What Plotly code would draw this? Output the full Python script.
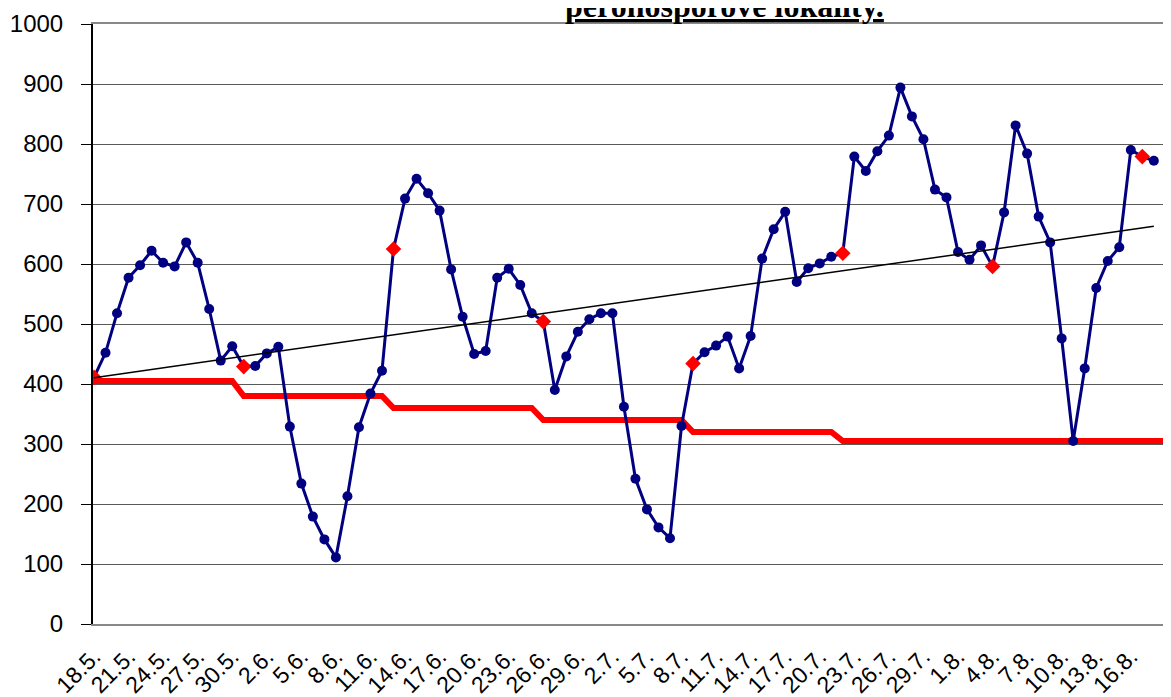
import plotly.graph_objects as go
import numpy as np

# --- data -------------------------------------------------------------
dates = [
    "18.5.", "19.5.", "20.5.", "21.5.", "22.5.", "23.5.", "24.5.", "25.5.", "26.5.", "27.5.",
    "28.5.", "29.5.", "30.5.", "31.5.", "1.6.", "2.6.", "3.6.", "4.6.", "5.6.", "6.6.",
    "7.6.", "8.6.", "9.6.", "10.6.", "11.6.", "12.6.", "13.6.", "14.6.", "15.6.", "16.6.",
    "17.6.", "18.6.", "19.6.", "20.6.", "21.6.", "22.6.", "23.6.", "24.6.", "25.6.", "26.6.",
    "27.6.", "28.6.", "29.6.", "30.6.", "1.7.", "2.7.", "3.7.", "4.7.", "5.7.", "6.7.",
    "7.7.", "8.7.", "9.7.", "10.7.", "11.7.", "12.7.", "13.7.", "14.7.", "15.7.", "16.7.",
    "17.7.", "18.7.", "19.7.", "20.7.", "21.7.", "22.7.", "23.7.", "24.7.", "25.7.", "26.7.",
    "27.7.", "28.7.", "29.7.", "30.7.", "31.7.", "1.8.", "2.8.", "3.8.", "4.8.", "5.8.",
    "6.8.", "7.8.", "8.8.", "9.8.", "10.8.", "11.8.", "12.8.", "13.8.", "14.8.", "15.8.",
    "16.8.", "17.8.", "18.8.", "19.8.", "20.8.",
]

values = [
    411, 452, 518, 577, 598, 622, 602, 596, 636, 602,
    525, 439, 463, 429, 430, 451, 462, 329, 234, 179,
    141, 111, 213, 328, 384, 422, 625, 709, 742, 718,
    689, 591, 512, 450, 455, 577, 592, 565, 518, 504,
    390, 446, 487, 508, 518, 518, 362, 242, 191, 161,
    143, 330, 434, 453, 464, 479, 426, 480, 609, 658,
    687, 570, 593, 601, 612, 618, 779, 755, 788, 814,
    894, 846, 808, 724, 711, 620, 607, 631, 596, 686,
    831, 784, 679, 636, 476, 305, 426, 560, 605, 628,
    790, 779, 772,
]

threshold = (
    [405] * 13 + [380] * 13 + [360] * 13 + [340] * 13 + [320] * 13 + [305] * 30
)

flag_idx = [0, 13, 26, 39, 52, 65, 78, 91]

tick_labels = dates[0:91:3]

title_text = "peronosporové lokality."

# --- derived ----------------------------------------------------------
n = len(values)
xs = dates[:n]
symbols = ["diamond" if i in flag_idx else "circle" for i in range(n)]
mcolors = ["#FF0000" if i in flag_idx else "#000080" for i in range(n)]
msizes = [12 if i in flag_idx else 10 for i in range(n)]

coef = np.polyfit(np.arange(n), np.array(values, dtype=float), 1)
trend = list(np.polyval(coef, np.arange(n)))

fig = go.Figure()

fig.add_trace(go.Scatter(
    x=dates[:len(threshold)], y=threshold, mode="lines",
    line=dict(color="#FF0000", width=6), hoverinfo="skip", showlegend=False,
))

fig.add_trace(go.Scatter(
    x=xs, y=values, mode="lines+markers",
    line=dict(color="#000080", width=3),
    marker=dict(symbol=symbols, color=mcolors, size=msizes, opacity=1,
                line=dict(width=0)),
    showlegend=False,
))

fig.add_trace(go.Scatter(
    x=xs, y=trend, mode="lines",
    line=dict(color="#000000", width=1.5), hoverinfo="skip", showlegend=False,
))

# the page body adds an 8px offset; the figure is sized to fill the window
fig.update_layout(
    width=1163, height=689,
    margin=dict(l=85, r=0, t=16, b=73, autoexpand=False),
    paper_bgcolor="white", plot_bgcolor="white",
    font=dict(family="Liberation Sans, Arial, sans-serif", color="black"),
    xaxis=dict(
        type="category", automargin=False,
        categoryorder="array", categoryarray=dates,
        range=[-0.087, 93.49],
        tickmode="array", tickvals=tick_labels, ticktext=tick_labels,
        tickangle=-45, tickfont=dict(size=23),
        ticks="", ticklabelstandoff=8,
        showgrid=False, zeroline=False,
        showline=True, linecolor="#888888", linewidth=2, mirror=True,
    ),
    yaxis=dict(
        automargin=False,
        range=[0, 1000], dtick=100, tick0=0,
        tickfont=dict(size=24),
        ticks="outside", ticklen=10, tickcolor="black", tickwidth=1,
        ticklabelstandoff=13,
        showgrid=True, gridcolor="#5a5a5a", gridwidth=1,
        zeroline=False,
        showline=True, linecolor="black", linewidth=2,
    ),
    annotations=[dict(
        text="<b><u>" + title_text + "</u></b>",
        xref="paper", yref="paper", x=0.5855, y=0.9967,
        xanchor="center", yanchor="bottom", showarrow=False,
        font=dict(family="Liberation Serif, Times New Roman, serif", size=32, color="black"),
    )],
)

fig.write_html("out.html")
